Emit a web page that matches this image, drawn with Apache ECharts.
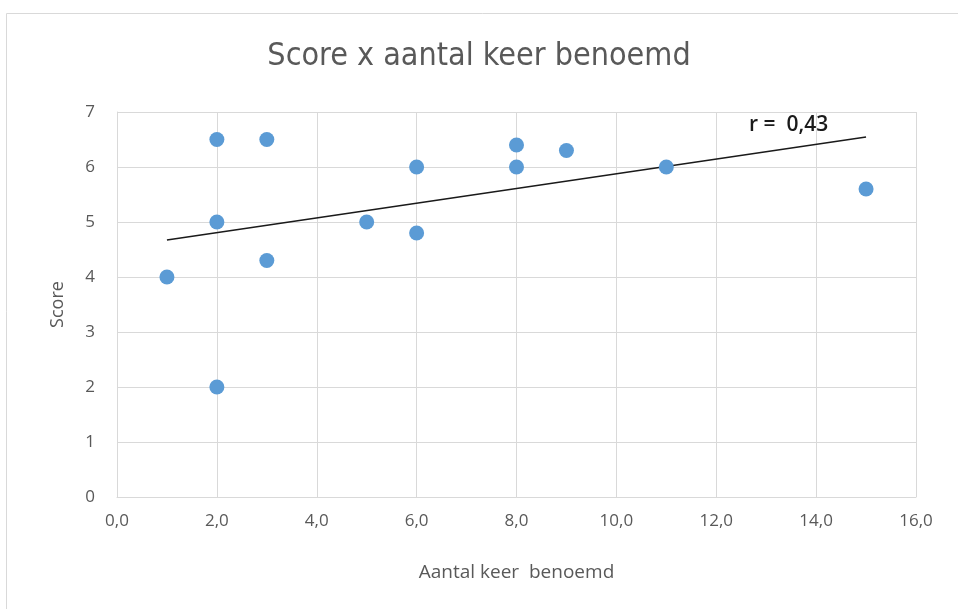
<!DOCTYPE html>
<html>
<head>
<meta charset="utf-8">
<script src="https://cdn.jsdelivr.net/npm/echarts@6/dist/echarts.min.js"></script>
<style>
  html, body { margin: 0; padding: 0; background: #fff; }
  #chart { width: 958px; height: 609px; }
</style>
</head>
<body>
<div id="chart"></div>
<script>
// aantal keer benoemd (x) en score (y)
const timesNamed = [1, 2, 2, 2, 3, 3, 5, 6, 6, 8, 8, 9, 11, 15]
const scores = [4, 6.5, 5, 2, 6.5, 4.3, 5, 6, 4.8, 6.4, 6, 6.3, 6, 5.6]
const rLabel = 'r =  0,43'

// least squares trendline over the points
function linearFit(xs, ys) {
  const n = xs.length
  const mx = xs.reduce((a, b) => a + b, 0) / n
  const my = ys.reduce((a, b) => a + b, 0) / n
  let sxy = 0, sxx = 0
  xs.forEach((x, i) => {
    sxy += (x - mx) * (ys[i] - my)
    sxx += (x - mx) * (x - mx)
  })
  const slope = sxy / sxx
  return { slope, intercept: my - slope * mx }
}

const fit = linearFit(timesNamed, scores)
const xMin = Math.min(...timesNamed)
const xMax = Math.max(...timesNamed)
const trend = [
  [xMin, fit.intercept + fit.slope * xMin],
  [xMax, fit.intercept + fit.slope * xMax],
]

const labelColor = '#595959'
const gridColor = '#d9d9d9'

const chart = echarts.init(document.getElementById('chart'))
chart.setOption({
  animation: false,
  title: {
    text: 'Score x aantal keer benoemd',
    left: 'center',
    top: 36,
    textStyle: {
      fontFamily: 'DejaVu Sans Condensed, Liberation Sans Narrow, sans-serif',
      fontSize: 32,
      fontWeight: 'normal',
      color: labelColor,
    },
  },
  graphic: [
    {
      type: 'rect',
      left: 4,
      top: 11,
      shape: { width: 970, height: 620 },
      style: { fill: 'none', stroke: '#d9d9d9', lineWidth: 1 },
      silent: true,
    },
  ],
  grid: { left: 117, right: 42, top: 112, bottom: 112 },
  xAxis: {
    type: 'value',
    min: 0,
    max: 16,
    interval: 2,
    name: 'Aantal keer  benoemd',
    nameLocation: 'middle',
    nameGap: 66,
    nameTextStyle: { fontFamily: 'Open Sans, sans-serif', fontSize: 19, color: labelColor },
    axisLine: { lineStyle: { color: gridColor } },
    axisTick: { show: false },
    axisLabel: {
      fontFamily: 'Open Sans, sans-serif',
      fontSize: 17,
      color: labelColor,
      margin: 16,
      formatter: (v) => v.toFixed(1).replace('.', ','),
    },
    splitLine: { lineStyle: { color: gridColor } },
  },
  yAxis: {
    type: 'value',
    min: 0,
    max: 7,
    interval: 1,
    name: 'Score',
    nameLocation: 'middle',
    nameGap: 50,
    nameTextStyle: { fontFamily: 'Open Sans, sans-serif', fontSize: 18, color: labelColor },
    axisLine: { show: true, lineStyle: { color: gridColor } },
    axisTick: { show: false },
    axisLabel: {
      fontFamily: 'Open Sans, sans-serif',
      fontSize: 17,
      color: labelColor,
      margin: 22,
    },
    splitLine: { lineStyle: { color: gridColor } },
  },
  series: [
    {
      type: 'scatter',
      data: timesNamed.map((x, i) => [x, scores[i]]),
      symbolSize: 15,
      itemStyle: { color: '#5b9bd5', opacity: 1 },
      z: 3,
    },
    {
      type: 'line',
      data: trend,
      symbol: 'none',
      lineStyle: { color: '#1a1a1a', width: 1.5 },
      z: 2,
      markPoint: {
        symbol: 'rect',
        symbolSize: 1,
        itemStyle: { color: 'transparent' },
        data: [{ coord: [13.45, 6.76], value: rLabel }],
        label: {
          show: true,
          formatter: rLabel,
          fontFamily: 'Open Sans, sans-serif',
          fontSize: 21,
          fontWeight: 600,
          color: '#1a1a1a',
        },
      },
    },
  ],
})
</script>
</body>
</html>
